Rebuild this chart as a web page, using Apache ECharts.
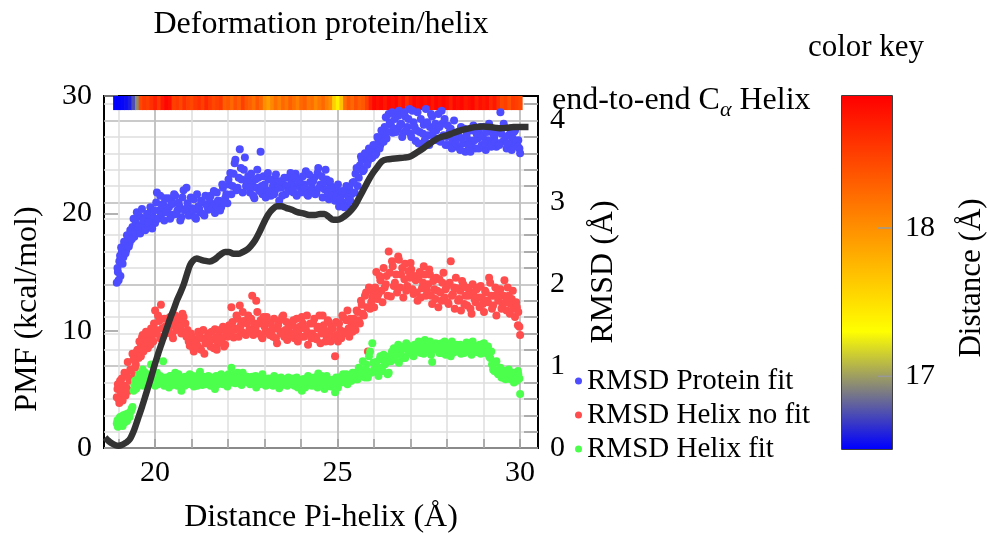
<!DOCTYPE html>
<html><head><meta charset="utf-8">
<script src="https://cdn.jsdelivr.net/npm/echarts@6/dist/echarts.min.js"></script>
<style>html,body{margin:0;padding:0;background:#fff}#c{width:987px;height:533px}</style>
</head><body><div id="c"></div>
<script>
// ---------- data ----------
// frames, batch A
const distance = [
18.95,18.98,19.02,19.05,19.09,19.13,19.16,19.21,19.25,19.30,
19.34,19.38,19.43,19.47,19.52,19.57,19.61,19.66,19.70,19.75,
19.80,19.84,19.89,19.95,20.00,20.05,20.11,20.16,20.22,20.27,
20.33,20.38,20.44,20.49,20.55,20.61,20.66,20.72,20.78,20.83,
20.89,20.95,21.01,21.06,21.12,21.18,21.23,21.29,21.35,21.41,
21.46,21.52,21.58,21.64,21.69,21.75,21.81,21.86,21.92,21.98,
22.03,22.09,22.15,22.20,22.26,22.32,22.37,22.43,22.49,22.55,
22.60,22.66,22.72,22.77,22.83,22.89,22.94,23.00,23.06,23.11,
23.17,23.23,23.28,23.34,23.40,23.45,23.51,23.57,23.62,23.68,
23.74,23.79,23.85,23.91,23.96,24.02,24.08,24.13,24.19,24.25,
24.30,24.36,24.42,24.47,24.53,24.59,24.64,24.70,24.76,24.81,
24.87,24.93,24.98,25.04,25.10,25.15,25.21,25.27,25.32,25.38,
25.44,25.49,25.55,25.61,25.66,25.72,25.78,25.83,25.89,25.95,
26.00,26.06,26.12,26.17,26.23,26.29,26.34,26.40,26.46,26.51,
26.57,26.63,26.68,26.74,26.80,26.85,26.91,26.97,27.02,27.08,
27.14,27.19,27.25,27.31,27.36,27.42,27.48,27.53,27.59,27.65,
27.70,27.76,27.82,27.87,27.93,27.99,28.04,28.10,28.16,28.21,
28.27,28.33,28.38,28.44,28.50,28.55,28.61,28.67,28.72,28.78,
28.84,28.89,28.95,29.01,29.06,29.12,29.18,29.23,29.29,29.35,
29.40,29.46,29.52,29.57,29.63,29.69,29.74,29.80,29.86,29.91,
29.95,29.98,30.00];
const rmsdProteinFit = [
2.02,2.15,2.28,2.10,2.40,2.33,2.48,2.42,2.55,2.50,
2.62,2.70,2.58,2.76,2.66,2.83,2.72,2.68,2.80,2.74,
2.86,2.70,2.78,2.82,2.75,3.12,2.90,2.84,2.98,3.05,
2.88,2.94,3.02,2.85,3.08,2.90,2.96,2.82,3.15,2.92,
2.99,2.86,2.93,3.04,2.80,2.95,2.88,3.00,2.84,2.97,
2.91,3.08,2.98,2.87,3.12,3.02,2.94,3.18,3.05,2.99,
3.22,3.10,3.35,3.52,3.18,3.65,3.28,3.40,3.20,3.32,
3.12,3.25,3.05,3.18,3.30,3.62,3.10,3.22,3.15,3.28,
3.08,3.20,3.14,3.26,3.02,3.18,3.22,3.10,3.30,3.16,
3.24,3.12,3.35,3.20,3.28,3.14,3.22,3.38,3.08,3.25,
3.18,3.30,3.12,3.42,3.22,3.06,3.16,3.28,3.04,3.20,
3.10,3.02,3.14,2.95,3.08,3.00,3.12,2.96,3.18,3.10,
3.25,3.35,3.20,3.45,3.52,3.40,3.58,3.50,3.62,3.55,
3.68,3.60,3.75,3.70,3.82,3.92,3.78,4.08,3.95,3.85,
4.02,3.90,4.12,3.96,3.85,4.05,3.92,4.14,3.80,3.98,
3.75,4.10,3.86,3.70,3.95,4.14,3.82,3.92,4.05,3.78,
3.88,4.08,3.74,3.96,4.02,3.80,3.70,3.90,3.76,3.84,
3.68,3.80,3.92,3.72,3.62,3.86,3.76,3.70,3.94,3.66,
3.78,3.84,3.70,3.92,3.64,3.76,3.88,3.72,3.80,3.68,
3.86,4.10,3.74,3.92,3.66,3.82,3.70,3.78,3.88,3.72,
3.76,3.66,3.60];
const rmsdHelixNoFit = [
0.62,0.78,0.55,0.70,0.85,0.66,0.92,0.74,1.05,0.82,
0.95,1.15,0.88,1.02,1.20,1.30,1.12,1.38,1.25,1.42,
1.22,1.35,1.46,1.30,1.68,1.40,1.55,1.75,1.36,1.48,
1.58,1.42,1.50,1.34,1.62,1.46,1.55,1.40,1.60,1.52,
1.44,1.25,1.36,1.18,1.30,1.42,1.22,1.34,1.15,1.28,
1.40,1.24,1.33,1.45,1.20,1.38,1.30,1.48,1.26,1.36,
1.50,1.72,1.35,1.46,1.58,1.74,1.42,1.55,1.38,1.62,
1.45,1.86,1.52,1.80,1.40,1.56,1.34,1.48,1.60,1.42,
1.52,1.36,1.46,1.28,1.55,1.40,1.62,1.44,1.32,1.50,
1.38,1.56,1.42,1.30,1.48,1.60,1.36,1.45,1.26,1.52,
1.40,1.58,1.33,1.48,1.28,1.62,1.44,1.36,1.54,1.30,
1.46,1.12,1.38,1.52,1.34,1.60,1.42,1.68,1.36,1.50,
1.58,1.44,1.66,1.52,1.75,1.62,1.90,1.18,1.70,1.84,
1.72,2.15,1.88,2.05,1.78,1.96,2.10,2.40,1.85,2.22,
2.02,1.90,2.30,2.12,1.84,2.25,1.98,2.08,2.18,1.88,
2.05,1.80,2.15,1.95,2.22,1.86,2.00,2.12,1.76,1.94,
2.08,1.72,1.90,2.02,1.84,1.98,1.76,2.28,1.88,1.70,
1.95,1.82,1.68,2.00,1.86,1.74,1.92,1.64,1.88,1.78,
1.96,1.72,1.84,1.66,1.90,1.78,2.02,1.70,1.86,1.62,
1.80,1.94,1.74,2.05,1.68,1.86,1.76,1.92,1.60,1.72,
1.66,1.48,1.38];
const rmsdHelixFit = [
0.30,0.26,0.36,0.28,0.33,0.40,0.31,0.35,0.42,0.38,
0.45,0.50,0.76,0.72,0.84,0.90,0.80,0.96,0.86,0.78,
0.88,0.82,1.02,0.84,0.76,0.92,0.80,0.86,1.06,0.78,
0.84,0.74,0.88,0.80,0.92,0.76,0.85,0.70,0.82,0.87,
0.78,0.90,0.81,0.75,0.86,0.79,0.93,0.77,0.84,0.80,
0.88,0.76,0.83,0.72,0.86,0.80,0.90,0.78,0.84,0.75,
0.82,0.98,0.86,0.79,0.92,0.84,0.77,0.88,0.81,0.85,
0.78,0.87,0.82,0.74,0.86,0.80,0.90,0.83,0.77,0.85,
0.80,0.76,0.84,0.81,0.73,0.86,0.79,0.83,0.76,0.82,
0.78,0.85,0.80,0.74,0.82,0.70,0.84,0.77,0.88,0.80,
0.76,0.86,0.82,0.91,0.78,0.84,0.72,0.88,0.80,0.75,
0.83,0.68,0.78,0.86,0.80,0.90,0.84,0.78,0.88,0.82,
0.86,0.92,0.84,0.96,0.88,0.94,1.02,0.86,1.18,1.28,
0.96,1.05,0.88,1.12,0.94,1.02,1.10,0.92,1.06,1.15,
1.08,1.18,1.04,1.14,1.22,1.10,1.26,1.16,1.20,1.12,
1.24,1.18,1.28,1.20,1.15,1.26,1.22,1.30,1.05,1.24,
1.20,1.27,1.16,1.23,1.30,1.18,1.25,1.12,1.22,1.19,
1.26,1.21,1.15,1.24,1.18,1.28,1.20,1.14,1.25,1.22,
1.17,1.26,1.21,1.28,1.16,1.24,1.10,1.02,0.94,1.06,
0.90,0.98,0.86,0.94,0.88,0.96,0.84,0.92,0.87,0.82,
0.90,0.85,0.66];
// frames, batch B
const distanceB = [
18.97,19.00,19.04,19.07,19.11,19.15,19.19,19.23,19.28,19.32,
19.36,19.41,19.45,19.50,19.55,19.59,19.64,19.68,19.73,19.78,
19.82,19.87,19.92,19.97,20.03,20.08,20.14,20.19,20.25,20.30,
20.36,20.41,20.47,20.52,20.58,20.64,20.69,20.75,20.81,20.86,
20.92,20.98,21.04,21.09,21.15,21.21,21.26,21.32,21.38,21.44,
21.49,21.55,21.61,21.67,21.72,21.78,21.84,21.89,21.95,22.01,
22.06,22.12,22.18,22.23,22.29,22.35,22.40,22.46,22.52,22.58,
22.63,22.69,22.75,22.80,22.86,22.92,22.97,23.03,23.09,23.14,
23.20,23.26,23.31,23.37,23.43,23.48,23.54,23.60,23.65,23.71,
23.77,23.82,23.88,23.94,23.99,24.05,24.11,24.16,24.22,24.28,
24.33,24.39,24.45,24.50,24.56,24.62,24.67,24.73,24.79,24.84,
24.90,24.96,25.01,25.07,25.13,25.18,25.24,25.30,25.35,25.41,
25.47,25.52,25.58,25.64,25.69,25.75,25.81,25.86,25.92,25.98,
26.03,26.09,26.15,26.20,26.26,26.32,26.37,26.43,26.49,26.54,
26.60,26.66,26.71,26.77,26.83,26.88,26.94,27.00,27.05,27.11,
27.17,27.22,27.28,27.34,27.39,27.45,27.51,27.56,27.62,27.68,
27.73,27.79,27.85,27.90,27.96,28.02,28.07,28.13,28.19,28.24,
28.30,28.36,28.41,28.47,28.53,28.58,28.64,28.70,28.75,28.81,
28.87,28.92,28.98,29.04,29.09,29.15,29.21,29.26,29.32,29.38,
29.43,29.49,29.55,29.60,29.66,29.72,29.77,29.83,29.89,29.94];
const rmsdProteinFitB = [
2.20,2.05,2.35,2.45,2.25,2.52,2.38,2.60,2.46,2.66,
2.55,2.80,2.64,2.88,2.70,2.62,2.92,2.78,2.66,2.86,
2.76,2.94,2.68,2.90,3.00,2.80,3.08,2.95,2.78,2.88,
3.05,2.80,2.98,3.10,2.86,3.00,2.78,3.06,2.90,3.18,
2.84,3.06,2.90,2.82,3.10,2.92,3.02,2.86,3.08,2.94,
3.05,2.92,3.14,2.96,3.02,2.90,3.22,3.00,3.10,3.28,
3.36,3.20,3.48,3.15,3.30,3.42,3.12,3.55,3.25,3.18,
3.35,3.08,3.28,3.40,3.14,3.20,3.32,3.06,3.36,3.12,
3.28,3.10,3.34,3.18,3.26,3.08,3.30,3.20,3.14,3.36,
3.16,3.30,3.08,3.26,3.12,3.32,3.18,3.10,3.34,3.14,
3.26,3.10,3.36,3.18,3.32,3.24,3.40,3.12,3.26,3.08,
3.18,3.06,3.22,3.04,3.14,2.94,3.20,3.06,3.02,3.24,
3.12,3.42,3.30,3.56,3.38,3.60,3.46,3.66,3.54,3.70,
3.58,3.80,3.66,3.88,3.74,4.04,3.86,3.98,4.10,3.90,
3.86,4.06,3.94,3.80,4.10,3.88,4.02,3.84,4.12,3.92,
3.88,3.72,4.02,3.84,3.76,3.98,3.70,4.08,3.86,3.96,
3.76,3.92,4.12,3.82,3.70,3.94,3.86,3.66,4.00,3.72,
3.86,3.64,3.78,3.90,3.82,3.70,3.62,3.88,3.76,3.84,
3.66,3.92,3.80,3.72,3.86,3.96,3.68,3.84,3.74,3.90,
3.70,3.84,3.96,3.80,3.72,3.90,3.64,3.86,3.74,3.68];
const rmsdHelixNoFitB = [
0.72,0.60,0.82,0.68,0.58,0.76,0.64,0.88,0.70,0.96,
0.84,1.08,0.98,1.18,1.10,1.22,1.35,1.18,1.30,1.24,
1.40,1.26,1.38,1.52,1.44,1.62,1.34,1.46,1.58,1.40,
1.46,1.60,1.38,1.54,1.44,1.58,1.48,1.64,1.42,1.36,
1.30,1.40,1.22,1.32,1.26,1.38,1.20,1.44,1.28,1.36,
1.30,1.42,1.22,1.35,1.28,1.44,1.34,1.24,1.40,1.46,
1.38,1.54,1.44,1.62,1.36,1.50,1.66,1.40,1.52,1.44,
1.58,1.38,1.46,1.66,1.52,1.36,1.60,1.42,1.54,1.38,
1.44,1.58,1.34,1.50,1.42,1.60,1.36,1.54,1.46,1.40,
1.50,1.34,1.58,1.44,1.36,1.52,1.46,1.62,1.40,1.34,
1.52,1.36,1.46,1.62,1.40,1.50,1.30,1.56,1.42,1.48,
1.36,1.54,1.30,1.44,1.62,1.40,1.56,1.46,1.58,1.42,
1.50,1.68,1.56,1.80,1.64,1.86,1.72,1.96,1.78,1.90,
1.96,1.82,2.10,1.92,2.20,2.00,1.86,2.14,2.28,1.98,
2.12,2.34,1.96,2.20,2.06,1.92,2.16,2.26,1.94,2.10,
1.90,2.08,1.84,2.02,2.12,1.92,2.18,1.86,2.04,1.82,
1.92,2.06,1.80,2.14,1.94,1.78,2.02,1.86,1.96,2.08,
1.80,1.92,2.04,1.76,1.96,1.86,1.70,2.00,1.82,1.94,
1.84,1.98,1.76,1.92,1.80,2.08,1.86,1.74,1.96,1.88,
1.92,1.70,1.86,1.78,1.96,1.64,1.82,1.70,1.78,1.50];
const rmsdHelixFitB = [
0.34,0.29,0.38,0.32,0.27,0.36,0.41,0.33,0.39,0.44,
0.48,0.70,0.82,0.74,0.88,0.78,0.84,0.76,0.92,0.82,
0.78,0.86,0.80,0.90,0.84,0.78,0.88,0.82,0.76,0.86,
0.80,0.88,0.77,0.84,0.79,0.90,0.82,0.86,0.76,0.81,
0.85,0.79,0.88,0.83,0.76,0.90,0.82,0.87,0.78,0.84,
0.79,0.86,0.81,0.88,0.78,0.84,0.80,0.87,0.82,0.90,
0.86,0.80,0.90,0.83,0.88,0.79,0.92,0.84,0.87,0.80,
0.84,0.79,0.88,0.82,0.78,0.86,0.81,0.76,0.84,0.80,
0.83,0.88,0.78,0.85,0.80,0.77,0.84,0.79,0.86,0.81,
0.80,0.76,0.86,0.82,0.78,0.84,0.74,0.81,0.79,0.85,
0.82,0.78,0.74,0.84,0.88,0.80,0.86,0.76,0.83,0.79,
0.78,0.86,0.74,0.82,0.88,0.84,0.90,0.86,0.82,0.92,
0.88,0.84,0.98,0.90,1.06,0.86,0.94,1.12,0.92,1.04,
1.00,0.92,1.08,0.98,1.14,1.04,0.90,1.12,1.18,1.22,
1.14,1.26,1.20,1.10,1.24,1.28,1.18,1.22,1.14,1.26,
1.20,1.30,1.16,1.24,1.32,1.19,1.26,1.14,1.22,1.28,
1.24,1.16,1.28,1.20,1.14,1.26,1.21,1.30,1.17,1.24,
1.18,1.26,1.22,1.16,1.29,1.21,1.25,1.30,1.18,1.24,
1.22,1.15,1.27,1.20,1.24,1.12,1.18,0.96,1.04,0.92,
0.96,0.86,0.92,0.84,0.94,0.88,0.90,0.80,0.86,0.94];
// PMF curve
const pmfX = [18.63,18.72,18.80,18.90,19.00,19.10,19.20,19.30,19.42,19.52,
19.64,19.75,19.86,19.97,20.08,20.20,20.32,20.43,20.52,20.60,
20.70,20.79,20.88,20.96,21.05,21.14,21.25,21.38,21.50,21.62,
21.72,21.82,21.92,22.02,22.15,22.28,22.40,22.52,22.62,22.74,
22.86,22.98,23.10,23.22,23.34,23.46,23.60,23.75,23.90,24.06,
24.22,24.38,24.52,24.64,24.76,24.88,25.00,25.12,25.25,25.38,
25.50,25.62,25.74,25.86,25.98,26.10,26.22,26.36,26.50,26.65,
26.82,26.99,27.15,27.35,27.55,27.78,28.00,28.17,28.35,28.54,
28.75,28.99,29.20,29.45,29.65,29.82,30.00,30.23];
const pmf = [0.9,0.62,0.42,0.26,0.2,0.28,0.45,0.72,1.5,2.4,
3.5,4.6,5.7,6.9,8.0,9.1,10.2,11.2,11.9,12.6,
13.3,14.0,14.9,15.6,16.0,16.15,16.05,15.95,15.9,16.05,
16.3,16.55,16.7,16.7,16.55,16.55,16.7,16.9,17.2,17.7,
18.4,19.2,19.9,20.35,20.6,20.6,20.45,20.3,20.1,20.0,
19.85,19.85,19.95,19.95,19.7,19.45,19.45,19.6,19.9,20.3,
20.8,21.5,22.2,22.9,23.5,24.0,24.45,24.6,24.65,24.7,
24.75,24.85,25.15,25.55,26.0,26.45,26.65,26.85,27.05,27.2,
27.35,27.4,27.35,27.25,27.3,27.35,27.35,27.35];
// end-to-end C-alpha distance strip
const stripX = [18.9,19.0,19.1,19.2,19.3,19.4,19.5,19.6,19.7,19.8,
19.9,20.0,20.1,20.2,20.3,20.4,20.5,20.6,20.7,20.8,
20.9,21.0,21.1,21.2,21.3,21.4,21.5,21.6,21.7,21.8,
21.9,22.0,22.1,22.2,22.3,22.4,22.5,22.6,22.7,22.8,
22.9,23.0,23.1,23.2,23.3,23.4,23.5,23.6,23.7,23.8,
23.9,24.0,24.1,24.2,24.3,24.4,24.5,24.6,24.7,24.8,
24.9,25.0,25.1,25.2,25.3,25.4,25.5,25.6,25.7,25.8,
25.9,26.0,26.1,26.2,26.3,26.4,26.5,26.6,26.7,26.8,
26.9,27.0,27.1,27.2,27.3,27.4,27.5,27.6,27.7,27.8,
27.9,28.0,28.1,28.2,28.3,28.4,28.5,28.6,28.7,28.8,
28.9,29.0,29.1,29.2,29.3,29.4,29.5,29.6,29.7,29.8,
29.9,30.0];
const stripDistance = [16.52,16.52,16.53,16.55,16.60,16.75,16.95,18.45,18.55,18.50,
18.60,18.70,18.55,18.75,18.85,18.80,18.50,18.55,18.45,18.60,
18.50,18.45,18.55,18.60,18.50,18.65,18.55,18.45,18.50,18.55,
18.30,18.35,18.25,18.40,18.30,18.50,18.35,18.30,18.20,18.35,
18.25,18.00,17.90,18.05,18.20,18.10,18.25,18.15,18.30,18.20,
18.10,18.25,18.30,18.15,18.20,18.05,18.15,18.25,18.10,18.00,
17.60,17.40,17.70,18.20,18.35,18.25,18.40,18.30,18.35,18.50,
18.70,18.85,18.80,18.85,18.75,18.85,18.80,18.85,18.70,18.80,
18.60,18.75,18.85,18.80,18.85,18.80,18.85,18.75,18.85,18.80,
18.85,18.80,18.70,18.85,18.80,18.85,18.75,18.80,18.85,18.70,
18.80,18.75,18.80,18.65,18.75,18.60,18.45,18.50,18.40,18.55,
18.50,18.45];
const xTickLabels = [20, 25, 30];
const xMinorTicks = [19,20,21,22,23,24,25,26,27,28,29,30];
const pmfTicks = [0, 10, 20, 30];
const rmsdTicks = [0, 1, 2, 3, 4];
const rmsdMinorTicks = [0.2,0.4,0.6,0.8,1.2,1.4,1.6,1.8,2.2,2.4,2.6,2.8,3.2,3.4,3.6,3.8,4.2];
const colorKeyTicks = [17, 18];
const colorKeyRange = [16.51, 18.89];
const colormap = ['#0000ff', '#ffff00', '#ff8000', '#ff0000'];
const seriesNames = ['RMSD Protein fit', 'RMSD Helix no fit', 'RMSD Helix fit'];

// ---------- chart ----------
const FONT = '"Liberation Serif", "Times New Roman", serif';
const FS = 30, FS_NAME = 32, FS_LEG = 29;
const txt = { fontFamily: FONT, fontSize: FS, color: '#000' };
const chart = echarts.init(document.getElementById('c'), null, { renderer: 'canvas' });
const zip = (xs, ys) => xs.map((x, i) => [x, ys[i]]);
const XMIN = 18.6, XMAX = 30.49;
const nameText = (text, x, y, rot, size) => ({ type: 'text', x, y, rotation: rot,
  style: { text, fontFamily: FONT, fontSize: size, fill: '#000', align: 'center', verticalAlign: 'middle' } });

const option = {
  animation: false,
  backgroundColor: '#fff',
  grid: [
    { left: 104, top: 96, width: 434, height: 352, show: true, borderColor: '#000', borderWidth: 2, backgroundColor: 'transparent' },
    { left: 842, top: 96, width: 50, height: 353, show: true, borderColor: '#000', borderWidth: 1.5, backgroundColor: 'transparent' }
  ],
  xAxis: [
    { gridIndex: 0, type: 'value', min: XMIN, max: XMAX, position: 'bottom',
      axisLine: { show: false },
      axisTick: { show: true, inside: true, length: 9, customValues: xMinorTicks, lineStyle: { color: '#999', width: 1.5 } },
      axisLabel: { customValues: xTickLabels, margin: 10, ...txt },
      splitLine: { show: true, lineStyle: { color: '#dedede', width: 1.5 } } },
    { gridIndex: 0, type: 'value', min: XMIN, max: XMAX, position: 'bottom',
      axisLine: { show: false },
      axisTick: { show: false, customValues: xTickLabels },
      axisLabel: { show: false },
      splitLine: { show: true, lineStyle: { color: '#b8b8b8', width: 1.5 } } },
    { gridIndex: 1, type: 'value', min: 0, max: 1, show: false }
  ],
  yAxis: [
    { gridIndex: 0, type: 'value', min: 0, max: 30, interval: 10, position: 'left',
      axisLine: { show: false },
      axisTick: { show: true, inside: true, length: 14, lineStyle: { color: '#999', width: 1.5 } },
      axisLabel: { margin: 12, ...txt },
      splitLine: { show: false } },
    { gridIndex: 0, type: 'value', min: 0, max: 4.3, position: 'right',
      axisLine: { show: false },
      axisTick: { show: true, inside: true, length: 14, customValues: rmsdMinorTicks, lineStyle: { color: '#999', width: 1.5 } },
      axisLabel: { customValues: rmsdTicks, margin: 12, ...txt },
      splitLine: { show: true, lineStyle: { color: '#dedede', width: 1.5 } } },
    { gridIndex: 0, type: 'value', min: 0, max: 4.3, position: 'right',
      axisLine: { show: false },
      axisTick: { show: false, customValues: rmsdTicks },
      axisLabel: { show: false },
      splitLine: { show: true, lineStyle: { color: '#b8b8b8', width: 1.5 } } },
    { gridIndex: 1, type: 'value', min: colorKeyRange[0], max: colorKeyRange[1], position: 'right',
      axisLine: { show: false },
      axisTick: { show: false, customValues: colorKeyTicks },
      axisLabel: { customValues: colorKeyTicks, margin: 13, ...txt },
      splitLine: { show: false } }
  ],
  visualMap: [{
    type: 'continuous', show: false, seriesIndex: 0, dimension: 1,
    min: colorKeyRange[0], max: colorKeyRange[1], inRange: { color: colormap }
  }],
  legend: {
    orient: 'vertical', left: 575, top: 366, padding: 0,
    itemWidth: 7, itemHeight: 7, itemGap: 4, icon: 'circle',
    data: seriesNames,
    textStyle: { fontFamily: FONT, fontSize: FS_LEG, color: '#000', lineHeight: 30 }
  },
  series: [
    { type: 'custom', name: 'strip', xAxisIndex: 0, yAxisIndex: 0,
      data: zip(stripX, stripDistance), encode: { x: 0, y: 1 },
      renderItem: (params, api) => {
        const x = api.value(0);
        const p1 = api.coord([x - 0.05, 30]);
        const p2 = api.coord([x + 0.05, 28.8]);
        return { type: 'rect', shape: { x: p1[0], y: p1[1], width: p2[0] - p1[0] + 0.7, height: p2[1] - p1[1] },
                 style: { fill: api.visual('color') } };
      } },
    { type: 'scatter', name: seriesNames[0], xAxisIndex: 0, yAxisIndex: 1,
      data: zip(distance, rmsdProteinFit).concat(zip(distanceB, rmsdProteinFitB)),
      symbolSize: 8, itemStyle: { color: '#4d4dff', opacity: 1 } },
    { type: 'scatter', name: seriesNames[1], xAxisIndex: 0, yAxisIndex: 1,
      data: zip(distance, rmsdHelixNoFit).concat(zip(distanceB, rmsdHelixNoFitB)),
      symbolSize: 8, itemStyle: { color: '#ff4d4d', opacity: 1 } },
    { type: 'scatter', name: seriesNames[2], xAxisIndex: 0, yAxisIndex: 1,
      data: zip(distance, rmsdHelixFit).concat(zip(distanceB, rmsdHelixFitB)),
      symbolSize: 8, itemStyle: { color: '#4dff4d', opacity: 1 } },
    { type: 'line', name: 'PMF', xAxisIndex: 0, yAxisIndex: 0, data: zip(pmfX, pmf),
      showSymbol: false, smooth: 0.3, lineStyle: { color: '#333333', width: 6.5 }, z: 5 },
    { type: 'custom', name: 'colorkey', xAxisIndex: 2, yAxisIndex: 3, data: [[0, colorKeyRange[0]]],
      renderItem: (params, api) => {
        const p1 = api.coord([0, colorKeyRange[1]]);
        const p2 = api.coord([1, colorKeyRange[0]]);
        const n = colormap.length - 1;
        const children = [{ type: 'rect', shape: { x: p1[0], y: p1[1], width: p2[0] - p1[0], height: p2[1] - p1[1] },
          style: { fill: new echarts.graphic.LinearGradient(0, 1, 0, 0,
            colormap.map((c, i) => ({ offset: i / n, color: c }))) } }];
        colorKeyTicks.forEach(v => {
          const y = api.coord([1, v])[1];
          children.push({ type: 'line', shape: { x1: p2[0] - 14, y1: y, x2: p2[0], y2: y },
            style: { stroke: '#999', lineWidth: 1.5 } });
        });
        return { type: 'group', children };
      } }
  ],
  graphic: [
    nameText('Deformation protein/helix', 321, 25, 0, FS_NAME),
    nameText('color key', 866, 48, 0, 31),
    { type: 'text', x: 552, y: 101, style: { text: 'end-to-end C{a|α} Helix', fontFamily: FONT, fontSize: FS_NAME, fill: '#000', align: 'left', verticalAlign: 'middle', lineHeight: 40,
        rich: { a: { fontFamily: FONT, fontSize: 22, fontStyle: 'italic', verticalAlign: 'bottom', lineHeight: 40 } } } },
    nameText('Distance Pi-helix (Å)', 321, 518, 0, FS_NAME),
    nameText('PMF (kcal/mol)', 28, 309, Math.PI / 2, FS_NAME),
    nameText('RMSD (Å)', 604, 272, Math.PI / 2, FS_NAME),
    nameText('Distance (Å)', 972, 278, Math.PI / 2, 31)
  ]
};
chart.setOption(option);
</script></body></html>
